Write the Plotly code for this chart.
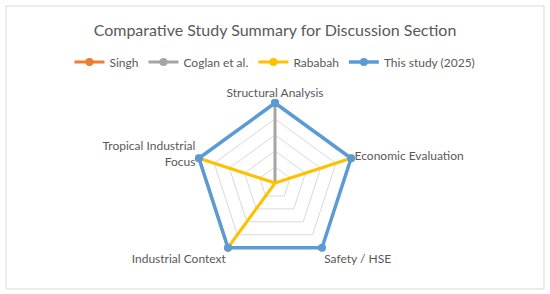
import plotly.graph_objects as go

categories = ["Structural Analysis", "Economic Evaluation", "Safety / HSE",
              "Industrial Context", "Tropical Industrial<br>Focus"]
series_names = ["Singh", "Coglan et al.", "Rababah", "This study (2025)"]
singh = [0, 0, 0, 0, 0]
coglan = [5, 0, 0, 0, 0]
rababah = [0, 5, 0, 5, 5]
this_study = [5, 5, 5, 5, 5]
colors = ["#ED7D31", "#A5A5A5", "#FFC000", "#5B9BD5"]
widths = [3, 3, 3, 3.5]

RMAX = 5.2
R_PX = 80 * RMAX / 5

fig = go.Figure()
for name, vals, col, w in zip(series_names, [singh, coglan, rababah, this_study], colors, widths):
    fig.add_trace(go.Scatterpolar(
        r=vals + vals[:1], theta=categories + categories[:1],
        mode="lines+markers", name=name, cliponaxis=False,
        line=dict(color=col, width=w),
        marker=dict(color=col, size=8),
    ))

fig.update_layout(
    width=550, height=294,
    margin=dict(l=0, r=0, t=0, b=0),
    paper_bgcolor="white",
    font=dict(family="Lato, Open Sans, sans-serif", color="#595959", size=12),
    title=dict(text="Comparative Study Summary for Discussion Section",
               x=0.5, xanchor="center", y=1 - 30 / 294, yanchor="middle",
               font=dict(size=16, color="#595959")),
    legend=dict(orientation="h", x=0.5, xanchor="center", y=1 - 62 / 294, yanchor="middle",
                font=dict(size=12, color="#595959"), itemwidth=30, tracegroupgap=0),
    polar=dict(
        domain=dict(x=[(275 - R_PX) / 550, (275 + R_PX) / 550],
                    y=[(294 - 183 - R_PX) / 294, (294 - 183 + R_PX) / 294]),
        gridshape="linear",
        bgcolor="white",
        radialaxis=dict(range=[0, RMAX], tickvals=[1, 2, 3, 4, 5], showticklabels=False, ticks="",
                        gridcolor="#D9D9D9", showline=False, gridwidth=1,
                        layer="below traces"),
        angularaxis=dict(direction="clockwise", rotation=90, ticks="",
                         showgrid=False, showline=False,
                         layer="below traces",
                         tickfont=dict(size=12, color="#595959")),
    ),
    shapes=[dict(type="rect", xref="paper", yref="paper",
                 x0=6 / 550, x1=544 / 550, y0=5 / 294, y1=288 / 294,
                 line=dict(color="#D9D9D9", width=1))],
)

fig.write_html("out.html", config={"displayModeBar": False},
               post_script="document.body.style.margin='0';")
